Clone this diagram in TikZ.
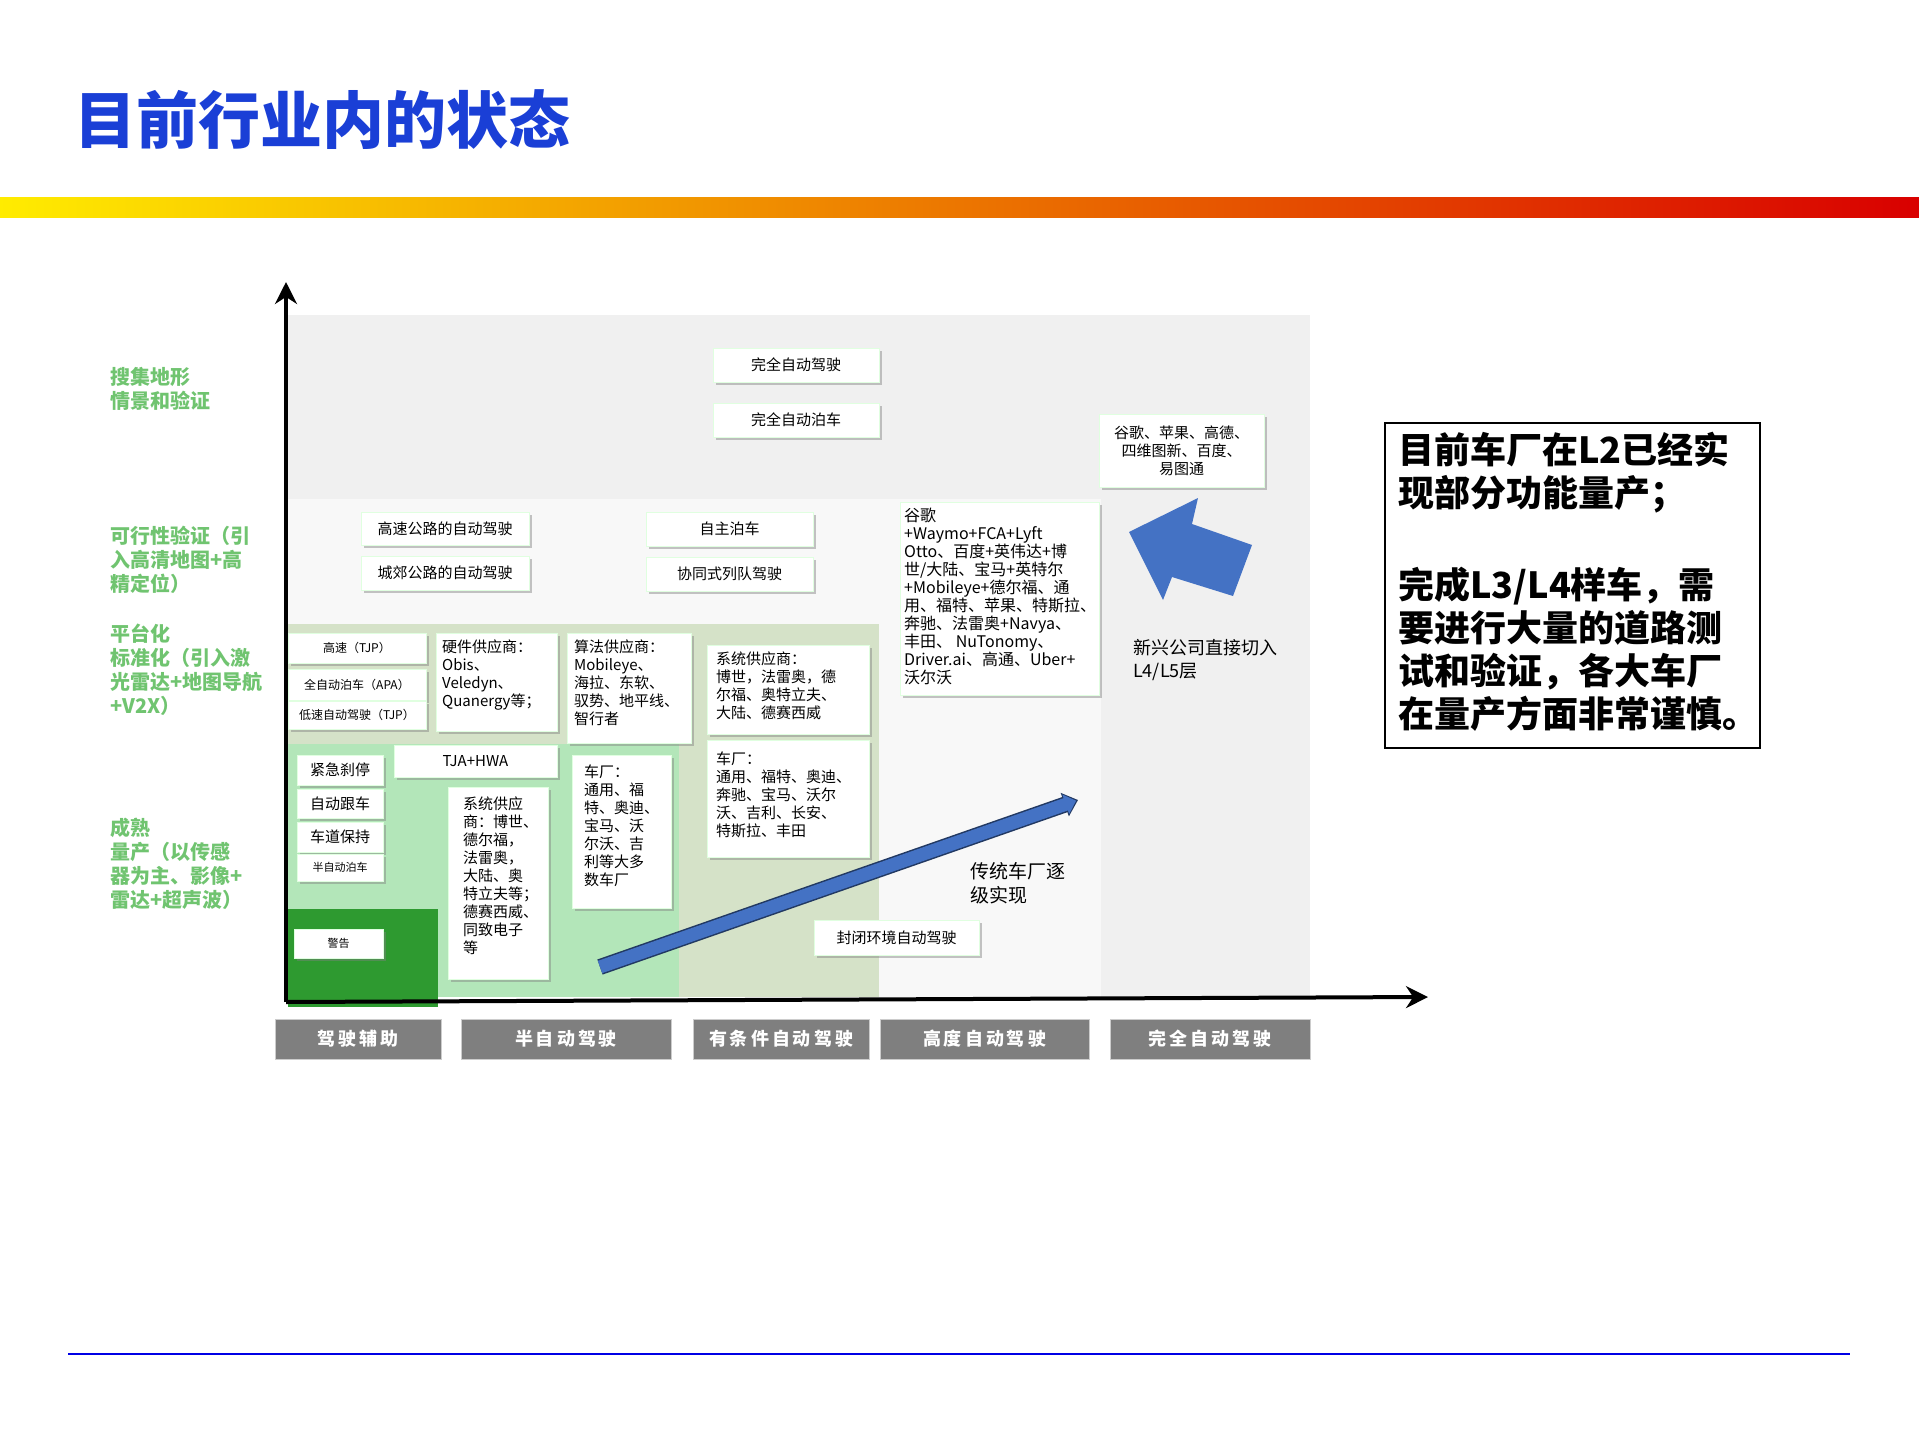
\documentclass[tikz,border=0pt]{standalone}
\usepackage{fontspec}
\setmainfont{Noto Sans CJK SC}
\usetikzlibrary{shadows,arrows.meta}
\definecolor{ttl}{HTML}{1A3FD6}
\definecolor{lg}{HTML}{70C470}
\definecolor{bgA}{HTML}{F0F0F0}
\definecolor{bgB}{HTML}{F8F8F8}
\definecolor{gg}{HTML}{D5E2C8}
\definecolor{lgr}{HTML}{B3E6B9}
\definecolor{dg}{HTML}{2E9A30}
\definecolor{arr}{HTML}{4472C4}
\definecolor{gb}{HTML}{7F7F7F}
\tikzset{
 bx/.style={draw=green!12!white,line width=0.8pt,fill=white,drop shadow={shadow xshift=3pt,shadow yshift=-3pt,opacity=0.45,fill=gray},inner sep=2pt,font=\fontsize{15}{18}\selectfont,align=center},
 tx/.style={inner sep=0pt,anchor=north west,align=left,font=\fontsize{14}{17}\selectfont},
 side/.style={anchor=north west,align=left,inner sep=0pt,text=lg,font=\bfseries\fontsize{20}{24}\selectfont},
 lvl/.style={fill=gb,draw=gray!40,line width=1pt,text=white,font=\bfseries\fontsize{18}{20}\selectfont,inner sep=0pt},
}
\newcommand\bx[6]{\node[bx,minimum width={(#4-#2)*1pt},minimum height={(#5-#3)*1pt}] (#1) at ({(#2+#4)/2},{(#3+#5)/2}) {#6};}
\newcommand\lv[4]{\node[lvl,minimum width={(#3-#2)*1pt},minimum height=40pt] (#1) at ({(#2+#3)/2},1039) {#4};}
\begin{document}
\begin{tikzpicture}[x=1pt,y=-1pt]
\useasboundingbox[fill=white] (0,0) rectangle (1919,1439);
\node[anchor=west,inner sep=0pt,text=ttl,font=\bfseries\fontsize{62}{70}\selectfont] (title) at (74,120) {目前行业内的状态};
\shade[left color=yellow!85!orange,middle color=orange!80!yellow,right color=red!85!black] (0,198) rectangle (1919,218);
\draw[blue!90!black,line width=2pt] (68,1354) -- (1850,1354);
% backgrounds
\fill[bgA] (288,315) rectangle (1310,997);
\fill[bgB] (288,499) rectangle (1101,997);
\fill[gg] (288,624) rectangle (879,997);
\fill[lgr] (288,744) rectangle (679,997);
\fill[dg] (288,909) rectangle (438,1007);
% axes
\coordinate (o) at (286,1002);
\coordinate (yt) at (286,282);
\coordinate (xt) at (1428,997);
\draw[line width=4pt,-{Stealth[length=22pt,width=22pt]}] (o) -- (yt);
\draw[line width=4pt,-{Stealth[length=22pt,width=22pt]}] (o) -- (xt);
% side labels
\node[side] (s1) at (110,367) {搜集地形\\情景和验证};
\node[side] (s2) at (110,526) {可行性验证（引\\入高清地图+高\\精定位）};
\node[side] (s3) at (110,624) {平台化\\标准化（引入激\\光雷达+地图导航\\+V2X）};
\node[side] (s4) at (110,818) {成熟\\量产（以传感\\器为主、影像+\\雷达+超声波）};
% level boxes
\lv{l1}{275}{441}{驾\,驶\,辅\,助}
\lv{l2}{461}{671}{半\,自\,动\,驾\,驶}
\lv{l3}{693}{869}{有\,条\,件\,自\,动\,驾\,驶}
\lv{l4}{880}{1089}{高\,度\,自\,动\,驾\,驶}
\lv{l5}{1110}{1310}{完\,全\,自\,动\,驾\,驶}
% boxes
\bx{b1}{713}{348}{879}{382}{完全自动驾驶}
\bx{b2}{713}{403}{879}{437}{完全自动泊车}
\bx{b3}{1099}{414}{1264}{487}{\fontsize{15}{17}\selectfont 谷歌、苹果、高德、\\四维图新、百度、\\易图通}
\bx{b4}{361}{512}{529}{545}{高速公路的自动驾驶}
\bx{b5}{361}{556}{529}{590}{城郊公路的自动驾驶}
\bx{b6}{646}{512}{813}{546}{自主泊车}
\bx{b7}{646}{557}{813}{591}{协同式列队驾驶}
\bx{b8}{900}{502}{1099}{695}{}
\node[tx,font=\fontsize{16}{18}\selectfont] (t8) at (904,508) {谷歌\\+Waymo+FCA+Lyft\\Otto、百度+英伟达+博\\世/大陆、宝马+英特尔\\+Mobileye+德尔福、通\\用、福特、苹果、特斯拉、\\奔驰、法雷奥+Navya、\\丰田、 NuTonomy、\\Driver.ai、高通、Uber+\\沃尔沃};
\bx{b9}{288}{633}{426}{663}{\fontsize{12}{14}\selectfont 高速（TJP）}
\bx{b10}{288}{669}{426}{700}{\fontsize{12}{14}\selectfont 全自动泊车（APA）}
\bx{b11}{288}{701}{426}{729}{\fontsize{12}{14}\selectfont 低速自动驾驶（TJP）}
\bx{b12}{436}{633}{557}{731}{}
\node[tx,font=\fontsize{15}{18}\selectfont] (t12) at (442,640) {硬件供应商：\\Obis、\\Veledyn、\\Quanergy等；};
\bx{b13}{567}{633}{691}{743}{}
\node[tx,font=\fontsize{15}{18}\selectfont] (t13) at (574,640) {算法供应商：\\Mobileye、\\海拉、东软、\\驭势、地平线、\\智行者};
\bx{b14}{707}{645}{869}{734}{}
\node[tx,font=\fontsize{15}{18}\selectfont] (t14) at (716,652) {系统供应商：\\博世，法雷奥，德\\尔福、奥特立夫、\\大陆、德赛西威};
\bx{b15}{707}{740}{869}{857}{}
\node[tx,font=\fontsize{15}{18}\selectfont] (t15) at (716,752) {车厂：\\通用、福特、奥迪、\\奔驰、宝马、沃尔\\沃、吉利、长安、\\特斯拉、丰田};
\bx{b16}{394}{745}{557}{777}{TJA+HWA}
\bx{b17}{297}{755}{383}{785}{紧急刹停}
\bx{b18}{297}{789}{383}{818}{自动跟车}
\bx{b19}{297}{822}{383}{852}{车道保持}
\bx{b20}{297}{854}{383}{881}{\fontsize{11}{13}\selectfont 半自动泊车}
\bx{b21}{294}{929}{383}{958}{\fontsize{11}{13}\selectfont 警告}
\bx{b22}{448}{787}{548}{979}{}
\node[tx,font=\fontsize{15}{18}\selectfont] (t22) at (463,797) {系统供应\\商：博世、\\德尔福，\\法雷奥，\\大陆、奥\\特立夫等；\\德赛西威、\\同致电子\\等};
\bx{b23}{572}{755}{671}{908}{}
\node[tx,font=\fontsize{15}{18}\selectfont] (t23) at (584,765) {车厂：\\通用、福\\特、奥迪、\\宝马、沃\\尔沃、吉\\利等大多\\数车厂};
\bx{b24}{814}{920}{979}{955}{封闭环境自动驾驶}
% traditional arrow
\coordinate (a1) at (600,967);
\coordinate (a2) at (1078,800);
\draw[draw=arr!50!black,line width=16pt,-{Triangle[length=14pt,width=24pt]}] (a1) -- (a2);
\draw[arr,line width=13pt,-{Triangle[length=11pt,width=20pt]},shorten >=2pt] (a1) -- (a2);
\node[anchor=north west,inner sep=0pt,align=left,font=\fontsize{19}{24}\selectfont] (ta) at (970,862) {传统车厂逐\\级实现};
% big arrow
\fill[arr] (1129,532) -- (1198,498) -- (1192,524) -- (1252,545) -- (1233,596) -- (1172,577) -- (1163,600) -- cycle;
\node[anchor=north west,inner sep=0pt,align=left,font=\fontsize{18}{23}\selectfont] (tb) at (1133,639) {新兴公司直接切入\\L4/L5层};
% right box
\node[draw,line width=1.5pt,minimum width=375pt,minimum height=325pt,anchor=north west] (rb) at (1384,422) {};
\node[anchor=north west,inner sep=0pt,align=left,font=\bfseries\fontsize{36}{43}\selectfont] (rt) at (1398,432) {目前车厂在L2已经实\\现部分功能量产；\\[49pt]完成L3/L4样车，需\\要进行大量的道路测\\试和验证，各大车厂\\在量产方面非常谨慎。};
\end{tikzpicture}
\end{document}
